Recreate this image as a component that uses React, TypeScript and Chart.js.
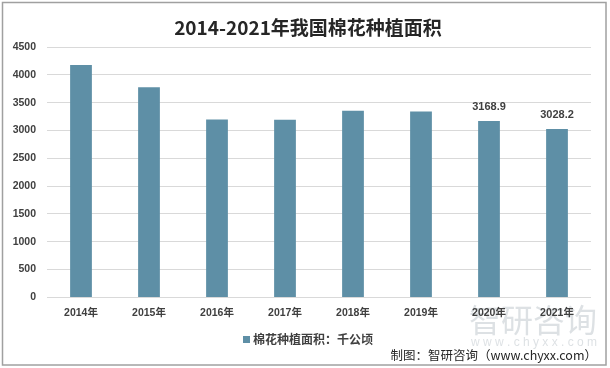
import React, { useEffect, useRef } from "react";
import { Chart, registerables } from "chart.js";

Chart.register(...registerables);

const categories = ["2014年", "2015年", "2016年", "2017年", "2018年", "2019年", "2020年", "2021年"];
const areaValues = [4176.3, 3775.0, 3197.7, 3194.7, 3354.4, 3339.2, 3168.9, 3028.2];
const labelledIndices = [6, 7];
const seriesName = "棉花种植面积：千公顷";
const titleText = "2014-2021年我国棉花种植面积";
const sourceText = "制图：智研咨询（www.chyxx.com）";
const watermarkBig = "智研咨询";
const watermarkSmall = "w w w . c h y x x . c o m";

const BAR_COLOR = "#5E8FA6";
const TEXT_COLOR = "#404040";
const NUM_FONT = "'Liberation Sans', 'Noto Sans CJK SC', sans-serif";
const CJK_FONT = "'Noto Sans CJK SC', 'Liberation Sans', sans-serif";

const decorPlugin = {
  id: "decor",
  beforeDraw(chart: any) {
    const ctx = chart.ctx;
    ctx.save();
    ctx.fillStyle = "#ffffff";
    ctx.fillRect(0, 0, chart.width, chart.height);
    // watermark
    ctx.fillStyle = "rgba(180,188,196,0.45)";
    ctx.font = `32px ${CJK_FONT}`;
    ctx.textAlign = "right";
    ctx.textBaseline = "middle";
    ctx.fillText(watermarkBig, 597, 320);
    ctx.font = `12px ${NUM_FONT}`;
    ctx.fillText(watermarkSmall, 597, 343);
    ctx.restore();
  },
  afterDraw(chart: any) {
    const ctx = chart.ctx;
    ctx.save();
    // outer border
    ctx.strokeStyle = "#A0A0A0";
    ctx.lineWidth = 1.5;
    ctx.strokeRect(2.5, 2.5, 603.5, 362.5);
    // title
    ctx.fillStyle = "#262626";
    ctx.font = `bold 19px ${CJK_FONT}`;
    ctx.textAlign = "center";
    ctx.textBaseline = "middle";
    ctx.fillText(titleText, 308, 28);
    // data labels
    const meta = chart.getDatasetMeta(0);
    ctx.fillStyle = TEXT_COLOR;
    ctx.font = `bold 11px ${NUM_FONT}`;
    labelledIndices.forEach((i) => {
      const el = meta.data[i];
      ctx.fillText(areaValues[i].toFixed(1), el.x, el.y - 14);
    });
    // legend
    ctx.font = `bold 12px ${CJK_FONT}`;
    ctx.textAlign = "left";
    const tw = ctx.measureText(seriesName).width;
    const total = 7 + 3 + tw;
    const lx = 308 - total / 2;
    ctx.fillStyle = BAR_COLOR;
    ctx.fillRect(lx, 336, 7, 7);
    ctx.fillStyle = TEXT_COLOR;
    ctx.fillText(seriesName, lx + 10, 339);
    // source
    ctx.font = `12.5px ${CJK_FONT}`;
    ctx.textAlign = "right";
    ctx.fillStyle = "#262626";
    ctx.fillText(sourceText, 597, 355);
    ctx.restore();
  },
};

export default function App() {
  const canvasRef = useRef<HTMLCanvasElement>(null);

  useEffect(() => {
    document.body.style.margin = "0";
    const chart = new Chart(canvasRef.current as HTMLCanvasElement, {
      type: "bar",
      data: {
        labels: categories,
        datasets: [
          {
            label: seriesName,
            data: areaValues,
            backgroundColor: BAR_COLOR,
            categoryPercentage: 1,
            barPercentage: 0.32,
          },
        ],
      },
      options: {
        animation: false,
        responsive: false,
        maintainAspectRatio: false,
        layout: { padding: { left: 7, right: 19, top: 47, bottom: 40 } },
        plugins: {
          legend: { display: false },
          title: { display: false },
          tooltip: { enabled: false },
        },
        scales: {
          x: {
            grid: { display: false, drawTicks: false },
            border: { display: false },
            ticks: {
              color: TEXT_COLOR,
              font: { family: NUM_FONT, size: 10.5, weight: "bold" },
              padding: 9,
              maxRotation: 0,
            },
          },
          y: {
            min: 0,
            max: 4500,
            grid: { color: "#D9D9D9", lineWidth: 1, drawTicks: false },
            border: { display: false },
            ticks: {
              stepSize: 500,
              color: TEXT_COLOR,
              font: { family: NUM_FONT, size: 10.5, weight: "bold" },
              padding: 11,
              callback: (v: any) => String(v),
            },
            afterFit: (scale: any) => {
              scale.width = 40;
            },
          },
        },
      },
      plugins: [decorPlugin],
    });
    return () => chart.destroy();
  }, []);

  return (
    <div style={{ width: 610, height: 368, position: "relative" }}>
      <canvas ref={canvasRef} width={610} height={368} style={{ display: "block" }} />
    </div>
  );
}
